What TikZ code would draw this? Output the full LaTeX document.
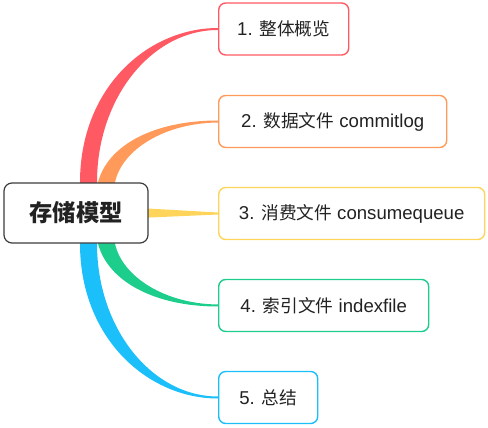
\documentclass[tikz,border=0pt]{standalone}
\usepackage{fontspec}
\setmainfont{Liberation Sans}
\newfontfamily\cjk{Noto Sans CJK SC}[Scale=0.95]
\usetikzlibrary{calc,backgrounds}
\definecolor{cRed}{HTML}{FF5A63}
\definecolor{cOrange}{HTML}{FF9A5A}
\definecolor{cYellow}{HTML}{FFD45A}
\definecolor{cGreen}{HTML}{1CCD8C}
\definecolor{cBlue}{HTML}{1BBFFA}
\definecolor{cText}{HTML}{222222}
\definecolor{cRootBorder}{HTML}{3C3C3C}
\tikzset{
  rootbox/.style={draw=cRootBorder, line width=1.2pt, fill=white, rounded corners=8pt,
    minimum width=144pt, minimum height=60pt, inner sep=0pt, text=cText,
    font=\cjk\bfseries\fontsize{24.5}{28}\selectfont},
  leaf/.style={line width=1.4pt, fill=white, rounded corners=7pt, anchor=west,
    minimum height=52pt, inner sep=0pt, text=cText,
    font=\fontsize{18.6}{22}\selectfont},
}
\begin{document}
\begin{tikzpicture}[x=1pt,y=-1pt]
\useasboundingbox (0,0) rectangle (488,428);
\node[rootbox] (root) at (76,213) {存储模型};
\node[leaf, draw=cRed, minimum width=130pt] (n1) at (218,29) {1. {\cjk 整体概览}};
\node[leaf, draw=cOrange, minimum width=228pt] (n2) at (218,121.5) {2. {\cjk 数据文件} commitlog};
\node[leaf, draw=cYellow, minimum width=266pt] (n3) at (218,213.5) {3. {\cjk 消费文件} consumequeue};
\node[leaf, draw=cGreen, minimum width=210pt] (n4) at (218,305.5) {4. {\cjk 索引文件} indexfile};
\node[leaf, draw=cBlue, minimum width=99pt] (n5) at (218,397.5) {5. {\cjk 总结}};
\begin{scope}[on background layer]
% red
\fill[cRed] ($(root.north)+(4,0)$) .. controls ($(root.north)+(4,-95)$) and ($(n1.west)+(-70,-1)$) .. ($(n1.west)+(0,-1)$)
  -- ($(n1.west)+(0,1)$) .. controls ($(n1.west)+(-66,1)$) and ($(root.north)+(21,-85)$) .. ($(root.north)+(21,0)$)
  -- ($(root.center)+(21,0)$) -- ($(root.center)+(4,0)$) -- cycle;
% orange
\fill[cOrange] ($(root.north)+(22,0)$) .. controls ($(root.north)+(32,-38)$) and ($(n2.west)+(-63,-1)$) .. ($(n2.west)+(0,-1)$)
  -- ($(n2.west)+(0,1)$) .. controls ($(n2.west)+(-53,1.5)$) and ($(root.north)+(46,-33)$) .. ($(root.north)+(39,0)$)
  -- ($(root.center)+(39,0)$) -- ($(root.center)+(22,0)$) -- cycle;
% yellow
\fill[cYellow] ($(root.east)+(-10,-5)$) .. controls ($(root.east)+(30,-2.5)$) .. ($(n3.west)+(0,-1)$)
  -- ($(n3.west)+(0,1)$) .. controls ($(root.east)+(30,2.5)$) .. ($(root.east)+(-10,5)$) -- cycle;
% green
\fill[cGreen] ($(root.south)+(22,0)$) .. controls ($(root.south)+(32,38)$) and ($(n4.west)+(-63,1)$) .. ($(n4.west)+(0,1)$)
  -- ($(n4.west)+(0,-1)$) .. controls ($(n4.west)+(-53,-1.5)$) and ($(root.south)+(46,33)$) .. ($(root.south)+(39,0)$)
  -- ($(root.center)+(39,0)$) -- ($(root.center)+(22,0)$) -- cycle;
% blue
\fill[cBlue] ($(root.south)+(4,0)$) .. controls ($(root.south)+(4,95)$) and ($(n5.west)+(-70,1)$) .. ($(n5.west)+(0,1)$)
  -- ($(n5.west)+(0,-1)$) .. controls ($(n5.west)+(-66,-1)$) and ($(root.south)+(21,85)$) .. ($(root.south)+(21,0)$)
  -- ($(root.center)+(21,0)$) -- ($(root.center)+(4,0)$) -- cycle;
\end{scope}
\end{tikzpicture}
\end{document}
